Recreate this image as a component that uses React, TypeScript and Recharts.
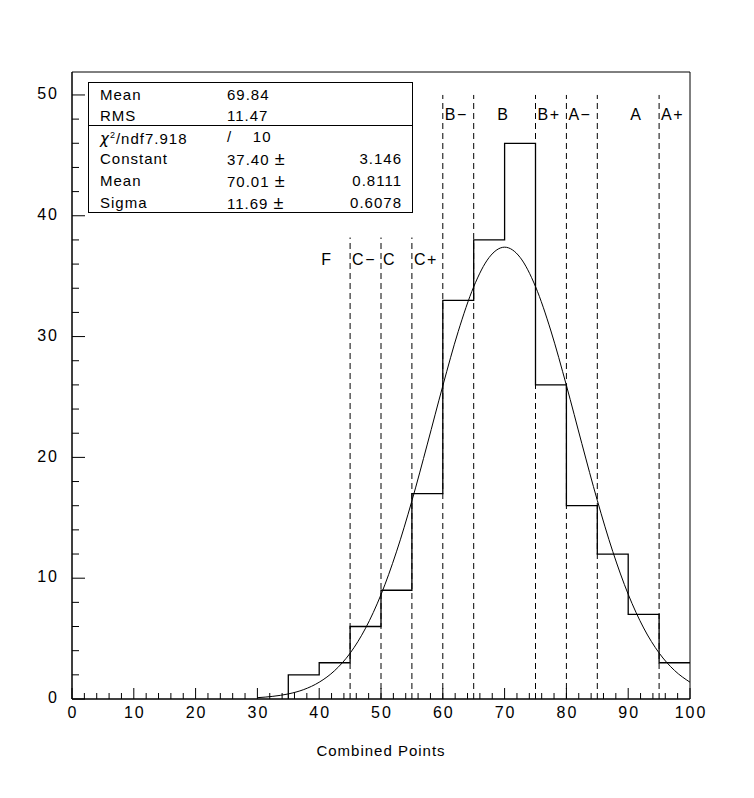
import React from "react";
import {
  ComposedChart,
  Line,
  Scatter,
  XAxis,
  YAxis,
  ReferenceLine,
  ReferenceArea,
} from "recharts";

// histogram bin edges / counts (bin width 5)
const binEdges = [35, 40, 45, 50, 55, 60, 65, 70, 75, 80, 85, 90, 95, 100];
const binCounts = [2, 3, 6, 9, 17, 33, 38, 46, 26, 16, 12, 7, 3, 3];

// gaussian fit curve
const fitX = [
  30, 32.5, 35, 37.5, 40, 42.5, 45, 47.5, 50, 52.5, 55, 57.5, 60, 62.5, 65,
  67.5, 70, 72.5, 75, 77.5, 80, 82.5, 85, 87.5, 90, 92.5, 95, 97.5, 100,
];
const fitY = [
  0.11, 0.22, 0.42, 0.78, 1.39, 2.35, 3.79, 5.86, 8.64, 12.18, 16.4, 21.1,
  25.92, 30.43, 34.12, 36.55, 37.4, 36.56, 34.14, 30.46, 25.96, 21.14, 16.44,
  12.21, 8.67, 5.88, 3.81, 2.36, 1.39,
];

// grade cut lines
const lowCuts = [45, 50, 55];
const lowCutTop = 38.2;
const highCuts = [60, 65, 75, 80, 85, 95];
const highCutTop = 50;

const gradeNames = ["F", "C\u2212", "C", "C+", "B\u2212", "B", "B+", "A\u2212", "A", "A+"];
const gradeX = [40, 45, 50, 55, 60, 68.5, 75, 80, 90, 95];
const gradeY = [36.3, 36.3, 36.3, 36.3, 48.3, 48.3, 48.3, 48.3, 48.3, 48.3];

const xTicks = Array.from({ length: 51 }, (_, i) => i * 2);
const yTicks = Array.from({ length: 26 }, (_, i) => i * 2);
const yMax = 51.9;

const statNames = ["Mean", "RMS"];
const statValues = ["69.84", "11.47"];
const fitNames = ["Constant", "Mean", "Sigma"];
const fitValues = ["37.40", "70.01", "11.69"];
const fitErrors = ["3.146", "0.8111", "0.6078"];
const chi2 = "7.918";
const ndf = "10";

const font = "'Liberation Sans', Arial, sans-serif";

const histData = [{ x: binEdges[0], y: 0 }].concat(
  binEdges.map((x, i) => ({ x, y: binCounts[i] }))
);
const fitData = fitX.map((x, i) => ({ x, y: fitY[i] }));
const gradeData = gradeNames.map((name, i) => ({ x: gradeX[i], y: gradeY[i], name }));

const AXIS_X = 72; // left edge of the plot
const AXIS_Y = 699; // bottom edge of the plot

const renderXTick = (props: any) => {
  const { x, payload } = props;
  const v = payload.value;
  const major = v % 10 === 0;
  return (
    <g key={"xt" + v}>
      <line x1={x} x2={x} y1={AXIS_Y} y2={AXIS_Y - (major ? 11 : 6)} stroke="#000" />
      {major && (
        <text
          x={x + 1}
          y={AXIS_Y + 15}
          textAnchor="middle"
          dominantBaseline="middle"
          fontFamily={font}
          fontSize={16}
          letterSpacing={2}
          fill="#000"
        >
          {v}
        </text>
      )}
    </g>
  );
};

const renderYTick = (props: any) => {
  const { y, payload } = props;
  const v = payload.value;
  const major = v % 10 === 0;
  return (
    <g key={"yt" + v}>
      <line x1={AXIS_X} x2={AXIS_X + (major ? 13 : 7)} y1={y} y2={y} stroke="#000" />
      {major && (
        <text
          x={AXIS_X - 13}
          y={y}
          textAnchor="end"
          dominantBaseline="middle"
          fontFamily={font}
          fontSize={16}
          letterSpacing={2}
          fill="#000"
        >
          {v}
        </text>
      )}
    </g>
  );
};

const GradeLabel = (props: any) => {
  const { cx, cy, payload } = props;
  return (
    <text
      x={cx + 2}
      y={cy}
      dominantBaseline="middle"
      fontFamily={font}
      fontSize={16}
      letterSpacing={1.5}
      fill="#000"
    >
      {payload.name}
    </text>
  );
};

const cell: React.CSSProperties = {
  position: "absolute",
  fontFamily: font,
  fontSize: 15,
  letterSpacing: 1,
  lineHeight: "18px",
  transform: "translateY(-50%)",
  whiteSpace: "nowrap",
};

const StatsBox = () => {
  const rowY = [12, 33, 54, 76, 98, 120];
  return (
    <div
      style={{
        position: "absolute",
        left: 88,
        top: 82,
        width: 323,
        height: 129,
        border: "1px solid #000",
      }}
    >
      <div
        style={{
          position: "absolute",
          left: 0,
          right: 0,
          top: 42,
          borderTop: "1px solid #000",
        }}
      />
      {statNames.map((n, i) => (
        <React.Fragment key={"s" + i}>
          <span style={{ ...cell, left: 11, top: rowY[i] }}>{n}</span>
          <span style={{ ...cell, left: 138, top: rowY[i] }}>{statValues[i]}</span>
        </React.Fragment>
      ))}
      <span style={{ ...cell, left: 11, top: rowY[2] }}>
        <span style={{ fontFamily: "'DejaVu Sans', sans-serif", fontStyle: "italic" }}>{"\u03c7"}</span>
        <sup style={{ fontSize: 9 }}>2</sup>/ndf{chi2}
      </span>
      <span style={{ ...cell, left: 138, top: rowY[2] }}>
        {"/\u00a0\u00a0\u00a0\u00a0" + ndf}
      </span>
      {fitNames.map((n, i) => (
        <React.Fragment key={"f" + i}>
          <span style={{ ...cell, left: 11, top: rowY[i + 3] }}>{n}</span>
          <span style={{ ...cell, left: 138, top: rowY[i + 3] }}>
            {fitValues[i] + " "}
            <span style={{ fontSize: 18 }}>{"\u00b1"}</span>
          </span>
          <span style={{ ...cell, right: 10, top: rowY[i + 3] }}>{fitErrors[i]}</span>
        </React.Fragment>
      ))}
    </div>
  );
};

const App = () => {
  return (
    <div style={{ position: "absolute", left: 0, top: 0, width: 754, height: 798, background: "#fff" }}>
      <ComposedChart
        width={754}
        height={798}
        margin={{ top: 72, right: 64, bottom: 69, left: 42 }}
      >
        <XAxis
          type="number"
          dataKey="x"
          domain={[0, 100]}
          ticks={xTicks}
          interval={0}
          height={30}
          tick={renderXTick}
          axisLine={{ stroke: "#000" }}
          tickLine={false}
        />
        <YAxis
          type="number"
          domain={[0, yMax]}
          ticks={yTicks}
          interval={0}
          width={30}
          tick={renderYTick}
          axisLine={{ stroke: "#000" }}
          tickLine={false}
        />
        <ReferenceArea x1={0} x2={100} y1={0} y2={yMax} fill="none" stroke="#000" strokeWidth={1} />
        {lowCuts.map((c) => (
          <ReferenceLine
            key={"l" + c}
            segment={[{ x: c, y: 0 }, { x: c, y: lowCutTop }]}
            stroke="#000"
            strokeDasharray="6 4"
          />
        ))}
        {highCuts.map((c) => (
          <ReferenceLine
            key={"h" + c}
            segment={[{ x: c, y: 0 }, { x: c, y: highCutTop }]}
            stroke="#000"
            strokeDasharray="6 4"
          />
        ))}
        <Line
          data={histData}
          dataKey="y"
          type="stepAfter"
          stroke="#000"
          strokeWidth={1.3}
          dot={false}
          isAnimationActive={false}
        />
        <Line
          data={fitData}
          dataKey="y"
          type="monotone"
          stroke="#000"
          strokeWidth={1}
          dot={false}
          isAnimationActive={false}
        />
        <Scatter
          data={gradeData}
          dataKey="y"
          shape={<GradeLabel />}
          isAnimationActive={false}
        />
        <text
          x={381}
          y={752}
          textAnchor="middle"
          dominantBaseline="middle"
          fontFamily={font}
          fontSize={15}
          letterSpacing={1}
          fill="#000"
        >
          Combined Points
        </text>
      </ComposedChart>
      <StatsBox />
    </div>
  );
};

export default App;
